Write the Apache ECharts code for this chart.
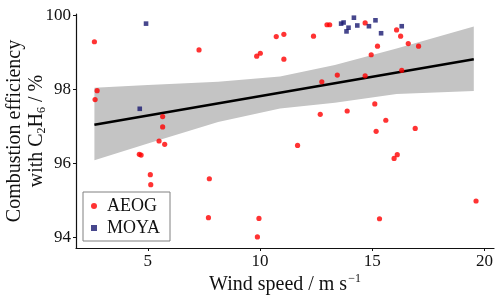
<!DOCTYPE html>
<html>
<head>
<meta charset="utf-8">
<script src="https://cdn.jsdelivr.net/npm/echarts@6.0.0/dist/echarts.min.js"></script>
<style>
html,body{margin:0;padding:0;background:#fff;}
#chart{width:500px;height:299px;}
</style>
</head>
<body>
<div id="chart"></div>
<script>
// ---- data ----
const aeogX = [2.62, 7.28, 10.72, 11.06, 9.85, 10.01, 11.06, 2.74, 2.65, 5.66, 5.66, 5.50, 5.75, 4.62, 4.70, 5.11, 5.13, 7.74, 7.70, 9.95, 9.88,
               12.38, 12.98, 13.10, 14.68, 16.08, 16.26, 15.23, 14.95, 16.60, 17.06, 12.75, 13.44, 14.68, 16.31, 15.11, 12.68, 13.88, 15.60, 15.17, 16.91, 11.67, 16.11, 15.97, 19.62, 15.32];
const aeogY = [99.28, 99.06, 99.42, 99.48, 98.89, 98.97, 98.81, 97.96, 97.72, 97.26, 96.98, 96.60, 96.51, 96.24, 96.22, 95.69, 95.42, 95.58, 94.53, 94.51, 94.01,
               99.43, 99.74, 99.74, 99.79, 99.60, 99.43, 99.16, 98.93, 99.23, 99.16, 98.20, 98.38, 98.36, 98.51, 97.60, 97.32, 97.41, 97.16, 96.86, 96.94, 96.48, 96.23, 96.13, 94.98, 94.50];
const moyaX = [4.92, 4.64, 13.61, 13.72, 14.18, 13.94, 13.85, 14.33, 14.85, 15.14, 15.39, 16.31];
const moyaY = [99.77, 97.47, 99.77, 99.80, 99.93, 99.66, 99.56, 99.72, 99.70, 99.86, 99.51, 99.70];

// linear fit and its confidence band
const fitX = [2.62, 19.52];
const fitY = [97.04, 98.81];
const bandX = [2.62, 5.0, 8.13, 10.89, 13.33, 16.08, 19.52];
const bandUpper = [98.04, 98.11, 98.20, 98.34, 98.65, 99.10, 99.69];
const bandLower = [96.08, 96.53, 97.11, 97.48, 97.63, 97.87, 97.95];

const xTicks = [5, 10, 15, 20];
const yTicks = [94, 96, 98, 100];
const seriesNames = ['AEOG', 'MOYA'];

const FONT = 'Liberation Serif';
const chart = echarts.init(document.getElementById('chart'), null, {renderer: 'canvas'});

const zip = (xs, ys) => xs.map((x, i) => [x, ys[i]]);

chart.setOption({
  animation: false,
  backgroundColor: '#fff',
  grid: {left: 76, right: 6, top: 14, bottom: 51, containLabel: false, outerBoundsMode: 'none'},
  legend: {
    orient: 'vertical',
    left: 83, top: 192,
    padding: [4, 10, 3, 8],
    itemGap: 2,
    itemWidth: 6, itemHeight: 6,
    borderColor: '#808080', borderWidth: 1,
    backgroundColor: '#fff',
    data: [{name: seriesNames[0], icon: 'circle'}, {name: seriesNames[1], icon: 'rect'}],
    textStyle: {fontFamily: FONT, fontSize: 18, color: '#111', lineHeight: 20, padding: [0, 0, 0, 5]}
  },
  xAxis: {
    type: 'value', min: 1.8, max: 20.42,
    name: '{a|Wind speed / m s}{sup|−1}',
    nameLocation: 'middle', nameGap: 25, nameMoveOverlap: false,
    nameTextStyle: {fontFamily: FONT, fontSize: 20, color: '#111',
      rich: {a: {fontFamily: FONT, fontSize: 20, color: '#111'},
             sup: {fontFamily: FONT, fontSize: 12, color: '#111', padding: [0, 0, 12, 1]}}},
    splitLine: {show: false},
    axisLine: {show: true, onZero: false, lineStyle: {color: '#111', width: 1.2}},
    axisTick: {show: true, length: 3, lineStyle: {color: '#111'}, customValues: xTicks},
    axisLabel: {fontFamily: FONT, fontSize: 17, color: '#111', margin: 5, customValues: xTicks}
  },
  yAxis: {
    type: 'value', min: 93.71, max: 100.03,
    name: '{a|Combustion efficiency}\n{a|with C}{sub|2}{a|H}{sub|6}{a| / %}',
    nameLocation: 'middle', nameRotate: 90, nameGap: 28, nameMoveOverlap: false,
    nameTextStyle: {fontFamily: FONT, fontSize: 20, color: '#111', lineHeight: 22,
      rich: {a: {fontFamily: FONT, fontSize: 20, color: '#111', lineHeight: 22, align: 'center'},
             sub: {fontFamily: FONT, fontSize: 12, color: '#111', padding: [10, 0, 0, 0], align: 'center'}}},
    splitLine: {show: false},
    axisLine: {show: true, onZero: false, lineStyle: {color: '#111', width: 1.2}},
    axisTick: {show: true, length: 3, lineStyle: {color: '#111'}, customValues: yTicks},
    axisLabel: {fontFamily: FONT, fontSize: 17, color: '#111', margin: 5, customValues: yTicks}
  },
  series: [
    {
      type: 'custom', name: 'band', silent: true, z: 1,
      data: bandX.map((x, i) => [x, bandLower[i], bandUpper[i]]),
      encode: {x: 0, y: [1, 2]},
      renderItem: function (params, api) {
        if (params.dataIndex !== 0) return null;
        const pts = [];
        for (let i = 0; i < bandX.length; i++) pts.push(api.coord([bandX[i], bandUpper[i]]));
        for (let i = bandX.length - 1; i >= 0; i--) pts.push(api.coord([bandX[i], bandLower[i]]));
        return {type: 'polygon', shape: {points: pts}, style: {fill: '#c4c4c4', stroke: null}};
      }
    },
    {
      type: 'line', name: 'fit', z: 2, silent: true,
      data: zip(fitX, fitY), symbol: 'none',
      lineStyle: {color: '#000', width: 2.6}
    },
    {
      type: 'scatter', name: seriesNames[0], z: 3,
      data: zip(aeogX, aeogY), symbol: 'circle', symbolSize: 5.2,
      itemStyle: {color: '#ff0000'}
    },
    {
      type: 'scatter', name: seriesNames[1], z: 3,
      data: zip(moyaX, moyaY), symbol: 'rect', symbolSize: 4.6,
      itemStyle: {color: '#191970'}
    }
  ]
});
</script>
</body>
</html>
